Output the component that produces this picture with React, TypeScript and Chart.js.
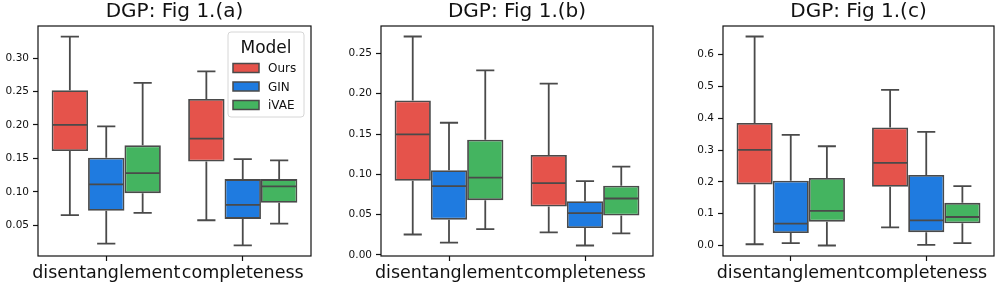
import React, { useEffect, useRef } from "react";
import { Chart, registerables } from "chart.js";

Chart.register(...registerables);

// ---------- data ----------
const CATEGORIES = ["disentanglement", "completeness"];
const MODELS = ["Ours", "GIN", "iVAE"];
const MODEL_COLORS = ["#E5534B", "#1F7BE0", "#44B460"];

// five-number summaries [whiskerLow, q1, median, q3, whiskerHigh] per category
const A_OURS = [[0.065, 0.161, 0.2, 0.252, 0.332], [0.0575, 0.1454, 0.1795, 0.239, 0.28]];
const A_GIN = [[0.0224, 0.0716, 0.111, 0.151, 0.198], [0.0199, 0.0595, 0.0806, 0.119, 0.149]];
const A_IVAE = [[0.0686, 0.098, 0.128, 0.1695, 0.263], [0.0525, 0.0837, 0.108, 0.119, 0.147]];

const B_OURS = [[0.0254, 0.092, 0.1496, 0.1917, 0.271], [0.028, 0.06, 0.089, 0.124, 0.2125]];
const B_GIN = [[0.0154, 0.0438, 0.0854, 0.105, 0.164], [0.0117, 0.0333, 0.052, 0.0667, 0.0917]];
const B_IVAE = [[0.032, 0.068, 0.096, 0.143, 0.229], [0.0267, 0.0488, 0.07, 0.0858, 0.1096]];

const C_OURS = [[0.004, 0.192, 0.3005, 0.385, 0.657], [0.057, 0.1845, 0.26, 0.371, 0.489]];
const C_GIN = [[0.0074, 0.039, 0.0685, 0.2035, 0.348], [0.002, 0.042, 0.079, 0.2214, 0.357]];
const C_IVAE = [[0.0, 0.0749, 0.1086, 0.212, 0.312], [0.0074, 0.0696, 0.0896, 0.134, 0.1866]];

const A_TICKS = [0.05, 0.1, 0.15, 0.2, 0.25, 0.3];
const B_TICKS = [0.0, 0.05, 0.1, 0.15, 0.2, 0.25];
const C_TICKS = [0.0, 0.1, 0.2, 0.3, 0.4, 0.5, 0.6];

const TITLES = ["DGP: Fig 1.(a)", "DGP: Fig 1.(b)", "DGP: Fig 1.(c)"];

// ---------- layout ----------
const FONT = "'DejaVu Sans', sans-serif";
const EDGE = "#4a4a4a";
const H = 286;

type Panel = {
  title: string;
  series: number[][][];
  ticks: number[];
  decimals: number;
  yMin: number;
  yMax: number;
  left: number;
  width: number;
  areaLeft: number;
  areaRight: number;
  legend: boolean;
};

const PANELS: Panel[] = [
  { title: TITLES[0], series: [A_OURS, A_GIN, A_IVAE], ticks: A_TICKS, decimals: 2, yMin: 0.004, yMax: 0.348, left: 0, width: 330, areaLeft: 38, areaRight: 311, legend: true },
  { title: TITLES[1], series: [B_OURS, B_GIN, B_IVAE], ticks: B_TICKS, decimals: 2, yMin: -0.0013, yMax: 0.284, left: 330, width: 335, areaLeft: 51, areaRight: 323, legend: false },
  { title: TITLES[2], series: [C_OURS, C_GIN, C_IVAE], ticks: C_TICKS, decimals: 1, yMin: -0.033, yMax: 0.69, left: 665, width: 332, areaLeft: 58, areaRight: 329, legend: false },
];

const boxPlugin = {
  id: "boxWhiskers",
  afterDatasetsDraw(chart: any) {
    const ctx = chart.ctx;
    const ys = chart.scales.y;
    ctx.save();
    ctx.strokeStyle = EDGE;
    ctx.lineWidth = 1.8;
    chart.data.datasets.forEach((ds: any, di: number) => {
      const meta = chart.getDatasetMeta(di);
      meta.data.forEach((el: any, i: number) => {
        const s = ds.stats[i];
        const { x, width } = el.getProps(["x", "width"], true);
        const yLo = ys.getPixelForValue(s[0]);
        const yQ1 = ys.getPixelForValue(s[1]);
        const yMed = ys.getPixelForValue(s[2]);
        const yQ3 = ys.getPixelForValue(s[3]);
        const yHi = ys.getPixelForValue(s[4]);
        const cap = width / 4;
        ctx.beginPath();
        ctx.moveTo(x, yQ3);
        ctx.lineTo(x, yHi);
        ctx.moveTo(x - cap, yHi);
        ctx.lineTo(x + cap, yHi);
        ctx.moveTo(x, yQ1);
        ctx.lineTo(x, yLo);
        ctx.moveTo(x - cap, yLo);
        ctx.lineTo(x + cap, yLo);
        ctx.moveTo(x - width / 2 + 1, yMed);
        ctx.lineTo(x + width / 2 - 1, yMed);
        ctx.stroke();
      });
    });
    ctx.restore();
  },
  afterDraw(chart: any) {
    const { ctx, chartArea } = chart;
    ctx.save();
    ctx.strokeStyle = "#111";
    ctx.lineWidth = 1.2;
    ctx.strokeRect(chartArea.left, chartArea.top, chartArea.right - chartArea.left, chartArea.bottom - chartArea.top);
    ctx.restore();
  },
};

const legendPlugin = {
  id: "insideLegend",
  afterDraw(chart: any) {
    if (!chart.options.plugins.insideLegend?.show) return;
    const ctx = chart.ctx;
    const a = chart.chartArea;
    const bw = 76;
    const bh = 85;
    const bx = a.right - bw - 7;
    const by = a.top + 6;
    ctx.save();
    ctx.beginPath();
    const r = 3;
    ctx.moveTo(bx + r, by);
    ctx.arcTo(bx + bw, by, bx + bw, by + bh, r);
    ctx.arcTo(bx + bw, by + bh, bx, by + bh, r);
    ctx.arcTo(bx, by + bh, bx, by, r);
    ctx.arcTo(bx, by, bx + bw, by, r);
    ctx.closePath();
    ctx.fillStyle = "rgba(255,255,255,0.85)";
    ctx.fill();
    ctx.strokeStyle = "#d6d6d6";
    ctx.lineWidth = 1;
    ctx.stroke();
    ctx.fillStyle = "#111";
    ctx.font = `17px ${FONT}`;
    ctx.textAlign = "center";
    ctx.textBaseline = "alphabetic";
    ctx.fillText("Model", bx + bw / 2, by + 21);
    ctx.textAlign = "left";
    ctx.textBaseline = "middle";
    ctx.font = `12px ${FONT}`;
    chart.data.datasets.forEach((ds: any, i: number) => {
      const cy = by + 36 + i * 18.5;
      ctx.fillStyle = ds.backgroundColor;
      ctx.fillRect(bx + 5, cy - 4.5, 26, 9);
      ctx.strokeStyle = EDGE;
      ctx.lineWidth = 1.5;
      ctx.strokeRect(bx + 5, cy - 4.5, 26, 9);
      ctx.fillStyle = "#111";
      ctx.fillText(ds.label, bx + 40, cy + 1);
    });
    ctx.restore();
  },
};

function PanelChart({ p }: { p: Panel }) {
  const ref = useRef<HTMLCanvasElement | null>(null);
  useEffect(() => {
    if (!ref.current) return;
    const datasets = MODELS.map((m, mi) => ({
      label: m,
      data: p.series[mi].map((s) => [s[1], s[3]]),
      stats: p.series[mi],
      backgroundColor: MODEL_COLORS[mi],
      borderColor: EDGE,
      borderWidth: 1.8,
      borderSkipped: false,
      categoryPercentage: 0.8,
      barPercentage: 1.0,
    }));
    const chart = new Chart(ref.current, {
      type: "bar",
      data: { labels: CATEGORIES, datasets: datasets as any },
      plugins: [boxPlugin, legendPlugin],
      options: {
        responsive: false,
        animation: false,
        devicePixelRatio: 1,
        layout: { padding: { left: 0, right: p.width - p.areaRight, top: 0, bottom: 0 } },
        scales: {
          x: {
            type: "category",
            offset: true,
            grid: { display: true, drawOnChartArea: false, offset: false, tickLength: 5, tickColor: "#111", tickWidth: 1.2 },
            border: { display: false },
            ticks: { color: "#111", font: { family: FONT, size: 17.5 }, padding: 2, maxRotation: 0, autoSkip: false },
            afterFit: (s: any) => {
              s.height = 30;
            },
          },
          y: {
            type: "linear",
            min: p.yMin,
            max: p.yMax,
            grid: { display: true, drawOnChartArea: false, tickLength: 5, tickColor: "#111", tickWidth: 1.2 },
            border: { display: false },
            ticks: {
              color: "#111",
              font: { family: FONT, size: 10.5 },
              padding: 4,
              callback: (v: any) => Number(v).toFixed(p.decimals),
            },
            afterBuildTicks: (s: any) => {
              s.ticks = p.ticks.map((v) => ({ value: v }));
            },
            afterFit: (s: any) => {
              s.width = p.areaLeft;
            },
          },
        },
        plugins: {
          legend: { display: false },
          tooltip: { enabled: false },
          title: {
            display: true,
            text: p.title,
            color: "#111",
            font: { family: FONT, size: 20, weight: "normal" },
            padding: { top: 0, bottom: 2 },
            fullSize: false,
          },
          insideLegend: { show: p.legend },
        } as any,
      },
    });
    return () => chart.destroy();
  }, [p]);
  return (
    <canvas
      ref={ref}
      width={p.width}
      height={H}
      style={{ position: "absolute", left: p.left, top: 0, width: p.width, height: H }}
    />
  );
}

export default function App() {
  return (
    <div style={{ position: "fixed", left: 0, top: 0, width: 997, height: H, background: "#fff" }}>
      {PANELS.map((p, i) => (
        <PanelChart key={i} p={p} />
      ))}
    </div>
  );
}
